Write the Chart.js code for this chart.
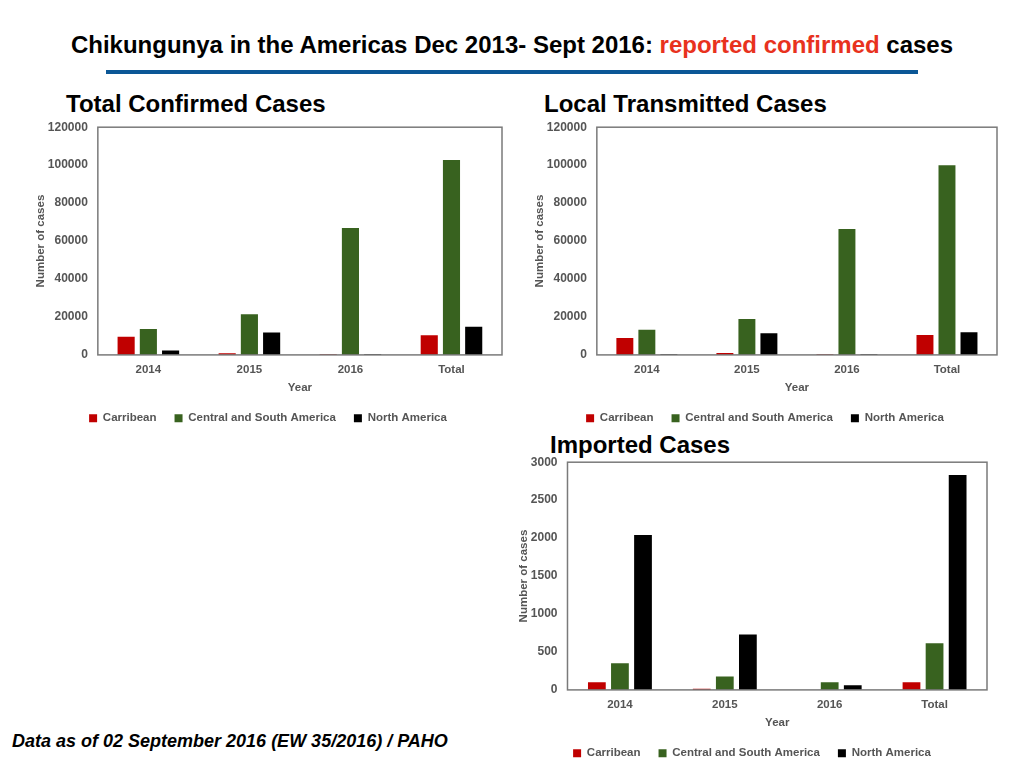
<!DOCTYPE html>
<html>
<head>
<meta charset="utf-8">
<script src="https://cdn.jsdelivr.net/npm/chart.js@4"></script>
<style>
  body { margin: 0; width: 1024px; height: 768px; background: #fff; font-family: "Liberation Sans", Arial, sans-serif; position: relative; overflow: hidden; }
  .main-title { position: absolute; left: 0; width: 1024px; top: 31px; text-align: center; font-size: 24px; font-weight: bold; color: #000; }
  .main-title span { color: #e8321e; }
  .rule { position: absolute; left: 106px; width: 812px; top: 70px; height: 4px; background: #0b5796; }
  .sub { position: absolute; font-size: 24px; font-weight: bold; color: #000; }
  .note { position: absolute; left: 12px; top: 731px; font-size: 18px; font-weight: bold; font-style: italic; color: #000; }
  .box { position: absolute; }
</style>
</head>
<body>
<div class="main-title">Chikungunya in the Americas Dec 2013- Sept 2016: <span>reported confirmed</span> cases</div>
<div class="rule"></div>
<div class="sub" style="left:66px; top:90px;">Total Confirmed Cases</div>
<div class="sub" style="left:544px; top:90px;">Local Transmitted Cases</div>
<div class="sub" style="left:550px; top:431px;">Imported Cases</div>
<div class="note">Data as of 02 September 2016 (EW 35/2016) / PAHO</div>

<div class="box" style="left:34px; top:110px; width:476px; height:324px;"><canvas id="c1"></canvas></div>
<div class="box" style="left:533px; top:110px; width:472px; height:324px;"><canvas id="c2"></canvas></div>
<div class="box" style="left:517px; top:445px; width:478px; height:324px;"><canvas id="c3"></canvas></div>

<script>
const years = ['2014', '2015', '2016', 'Total'];
const seriesNames = ['Carribean', 'Central and South America', 'North America'];
const seriesColors = ['#c00000', '#38621f', '#000000'];

// Total confirmed cases
const totalCarribean = [9500, 900, 300, 10400];
const totalCentralSouth = [13700, 21400, 66900, 102700];
const totalNorth = [2300, 11800, 300, 14800];

// Local transmitted cases
const localCarribean = [8900, 1000, 300, 10500];
const localCentralSouth = [13300, 18900, 66400, 100000];
const localNorth = [400, 11400, 300, 11900];

// Imported cases
const importedCarribean = [100, 15, 0, 100];
const importedCentralSouth = [350, 176, 100, 614];
const importedNorth = [2040, 729, 62, 2830];

const frame = {
  id: 'frame',
  afterDraw(chart) {
    const a = chart.chartArea, c = chart.ctx;
    c.save();
    c.strokeStyle = '#7a7a7a';
    c.lineWidth = 1.5;
    c.strokeRect(a.left, a.top, a.right - a.left, a.bottom - a.top);
    c.restore();
  }
};

const labelFont = { family: 'Liberation Sans', size: 11.5, weight: 'bold' };
const yTickFont = { family: 'Liberation Sans', size: 12, weight: 'bold' };

function makeChart(id, values, yMax, yStep) {
  new Chart(document.getElementById(id), {
    type: 'bar',
    data: {
      labels: years,
      datasets: values.map((v, i) => ({
        label: seriesNames[i],
        data: v,
        backgroundColor: seriesColors[i],
        categoryPercentage: 0.66,
        barPercentage: 0.77
      }))
    },
    options: {
      responsive: true,
      maintainAspectRatio: false,
      animation: false,
      layout: { padding: { left: 0, right: 8, top: 0, bottom: 0 } },
      plugins: {
        legend: {
          position: 'bottom',
          labels: { boxWidth: 8, boxHeight: 8, padding: 18, color: '#555', font: labelFont }
        },
        tooltip: { enabled: false }
      },
      scales: {
        x: {
          grid: { display: false, drawTicks: false },
          border: { display: false },
          ticks: { color: '#555', padding: 8, font: labelFont },
          title: { display: true, text: 'Year', color: '#555', padding: { top: -4, bottom: 0 }, font: labelFont }
        },
        y: {
          min: 0, max: yMax,
          grid: { display: false, drawTicks: false },
          border: { display: false },
          ticks: { stepSize: yStep, color: '#555', padding: 10, font: yTickFont, callback: v => String(v) },
          title: { display: true, text: 'Number of cases', color: '#555', padding: { top: 0, bottom: -10 }, font: labelFont }
        }
      }
    },
    plugins: [frame]
  });
}

makeChart('c1', [totalCarribean, totalCentralSouth, totalNorth], 120000, 20000);
makeChart('c2', [localCarribean, localCentralSouth, localNorth], 120000, 20000);
makeChart('c3', [importedCarribean, importedCentralSouth, importedNorth], 3000, 500);
</script>
</body>
</html>
